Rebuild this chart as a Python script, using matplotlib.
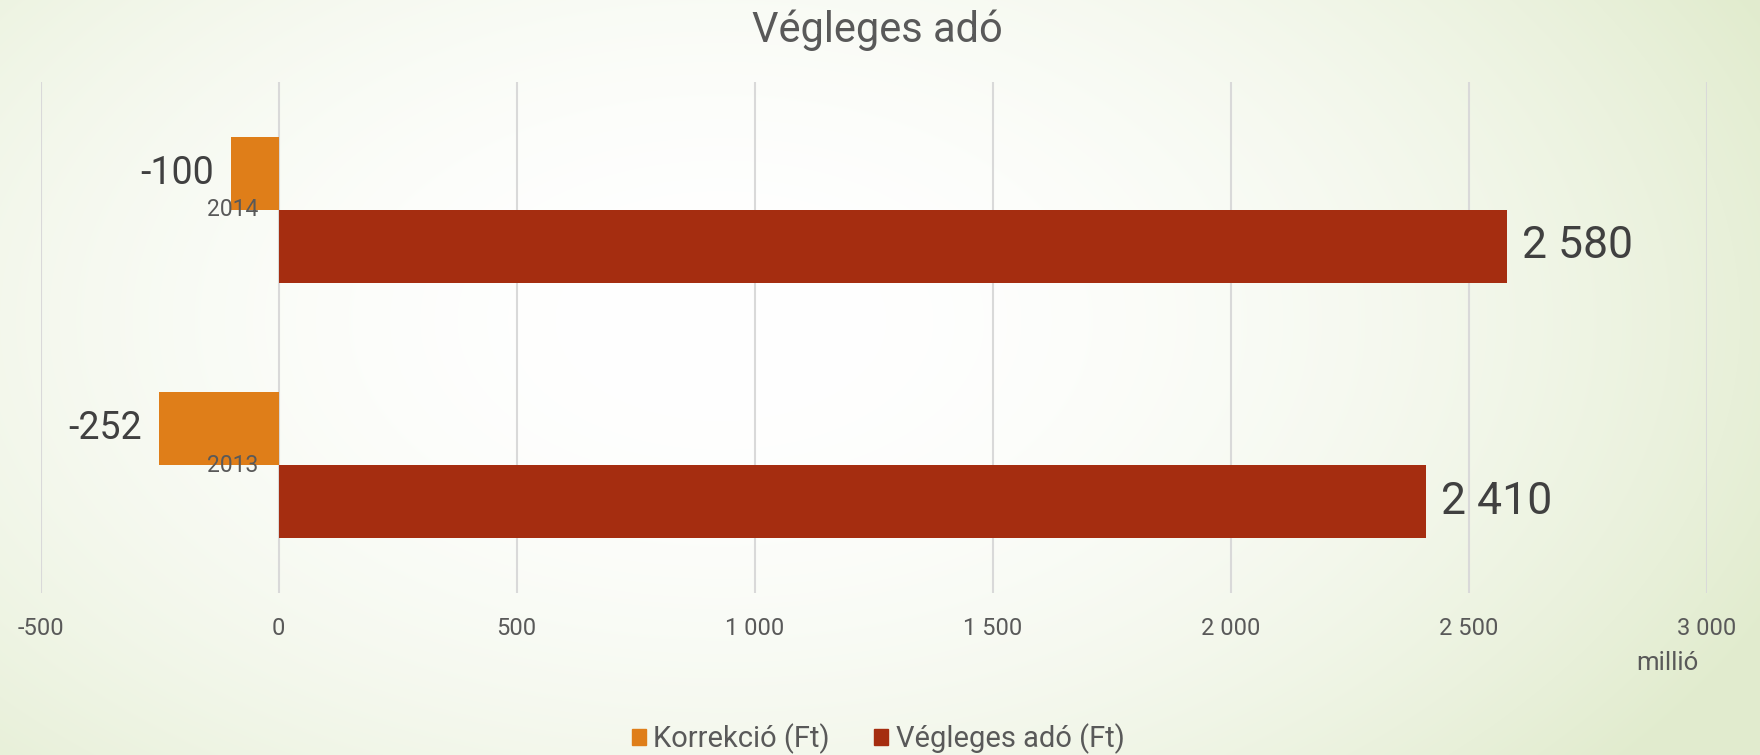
import numpy as np
import matplotlib
matplotlib.use("Agg")
from matplotlib import pyplot as plt
from matplotlib.patches import Patch

plt.rcParams['font.family'] = ['Roboto', 'DejaVu Sans']

years = ["2013", "2014"]
korrekcio = [-252, -100]
vegleges = [2410, 2580]
labels_korr = ["-252", "-100"]
labels_veg = ["2 410", "2 580"]
xticks = [-500, 0, 500, 1000, 1500, 2000, 2500, 3000]
xtick_labels = ["-500", "0", "500", "1 000", "1 500", "2 000", "2 500", "3 000"]

ORANGE = "#DF7E19"
RED = "#A52D10"
TXT = "#595959"
DARK = "#404040"

fig = plt.figure(figsize=(17.6, 7.55), dpi=100)

# soft radial background, white in the middle, pale green at the edges
bg = fig.add_axes([0, 0, 1, 1], zorder=-10)
h, w = 755, 1760
yy, xx = np.mgrid[0:h, 0:w]
r = np.sqrt(((xx - 720) / 1150.0) ** 2 + ((yy - 320) / 700.0) ** 2)
t = np.clip(r, 0, 1.1) ** 2
t = np.clip(t, 0, 1)
white = np.array([1.0, 1.0, 1.0])
green = np.array([0.885, 0.925, 0.81])
img = white[None, None, :] * (1 - t[..., None]) + green[None, None, :] * t[..., None]
bg.imshow(img, aspect="auto", extent=[0, 1, 0, 1])
bg.axis("off")

ax = fig.add_axes([40.7 / 1760, 1 - 593 / 755, 1666 / 1760, 511 / 755])
ax.set_facecolor("none")

ypos = np.arange(len(years))
bh = 0.285
ax.barh(ypos + bh / 2, korrekcio, height=bh, color=ORANGE, label="Korrekció (Ft)", zorder=3)
ax.barh(ypos - bh / 2, vegleges, height=bh, color=RED, label="Végleges adó (Ft)", zorder=3)

for i in range(len(years)):
    ax.annotate(labels_korr[i], (korrekcio[i], ypos[i] + bh / 2), xytext=(-17, 0),
                textcoords="offset pixels", ha="right", va="center",
                fontsize=27, color=DARK)
    ax.annotate(labels_veg[i], (vegleges[i], ypos[i] - bh / 2), xytext=(15, 0),
                textcoords="offset pixels", ha="left", va="center",
                fontsize=32, color=DARK)
    ax.annotate(years[i], (0, ypos[i]), xytext=(-20, 0),
                textcoords="offset pixels", ha="right", va="center",
                fontsize=16.5, color=TXT)

ax.set_xlim(-500, 3000)
ax.set_ylim(-0.5, 1.5)
ax.set_xticks(xticks)
ax.set_xticklabels(xtick_labels)
ax.set_yticks([])
ax.tick_params(axis="x", length=0, pad=17.5, labelsize=17, labelcolor=TXT)
ax.grid(axis="x", color="#d9d9d9", linewidth=1.5, zorder=0)
for s in ax.spines.values():
    s.set_visible(False)

fig.text(877 / 1760, 1 - 30 / 755, "Végleges adó", ha="center", va="center",
         fontsize=30, color=TXT)
fig.text(1667 / 1760, 1 - 663 / 755, "millió", ha="center", va="center",
         fontsize=18.5, color=TXT)

handles = [Patch(color=ORANGE), Patch(color=RED)]
fig.legend(handles, ["Korrekció (Ft)", "Végleges adó (Ft)"], loc="center",
           bbox_to_anchor=(878 / 1760, 1 - 739 / 755), ncol=2, frameon=False,
           fontsize=21, labelcolor=TXT, handlelength=0.5, handleheight=0.5,
           handletextpad=0.25, columnspacing=1.5, borderpad=0)

fig.savefig("out.png", dpi=100)
